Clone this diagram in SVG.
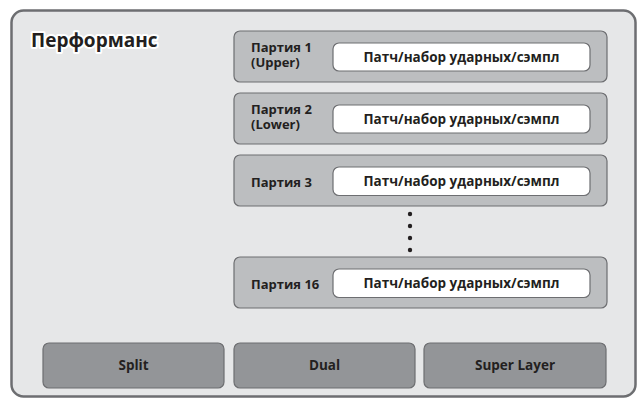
<svg xmlns="http://www.w3.org/2000/svg" width="643" height="399" viewBox="0 0 643 399">
<style>
.part{fill:#bcbec0;stroke:#6d6e71;stroke-width:1.2}
.patch{fill:#ffffff;stroke:#6d6e71;stroke-width:1.2}
.btn{fill:#939598;stroke:#6d6e71;stroke-width:1.2}
text{font-family:"Open Sans","Liberation Sans",sans-serif;fill:#231f20;font-weight:700}
.lbl{font-size:13px}
.pt{font-size:13.5px;text-anchor:middle}
.bt{font-size:13.5px;text-anchor:middle}
.title{font-size:19px;stroke:#ffffff;stroke-width:4;paint-order:stroke;stroke-linejoin:round}
</style>
<rect x="0" y="0" width="643" height="399" fill="#ffffff"/>
<g id="performance">
<rect x="11.5" y="10.5" width="624" height="386" rx="12" fill="#e6e7e8" stroke="#6d6e71" stroke-width="2.5"/>
<text class="title" x="31" y="47">Перформанс</text>
</g>
<g id="part1">
<rect class="part" x="234" y="31" width="373" height="51" rx="6"/>
<text class="lbl" x="251" y="52">Партия 1</text>
<text class="lbl" x="251" y="67">(Upper)</text>
<rect class="patch" x="333" y="43" width="257" height="28" rx="6"/>
<text class="pt" x="461.5" y="62">Патч/набор ударных/сэмпл</text>
</g>
<g id="part2">
<rect class="part" x="234" y="93" width="373" height="51" rx="6"/>
<text class="lbl" x="251" y="114">Партия 2</text>
<text class="lbl" x="251" y="129">(Lower)</text>
<rect class="patch" x="333" y="105" width="257" height="28" rx="6"/>
<text class="pt" x="461.5" y="124">Патч/набор ударных/сэмпл</text>
</g>
<g id="part3">
<rect class="part" x="234" y="155" width="373" height="51" rx="6"/>
<text class="lbl" x="251" y="187">Партия 3</text>
<rect class="patch" x="333" y="167" width="257" height="28.5" rx="6"/>
<text class="pt" x="461.5" y="186">Патч/набор ударных/сэмпл</text>
</g>
<g id="dots" fill="#231f20">
<circle cx="410" cy="214" r="2.2"/>
<circle cx="410" cy="226" r="2.2"/>
<circle cx="410" cy="238" r="2.2"/>
<circle cx="410" cy="250" r="2.2"/>
</g>
<g id="part16">
<rect class="part" x="234" y="257" width="373" height="51" rx="6"/>
<text class="lbl" x="251" y="289">Партия 16</text>
<rect class="patch" x="333" y="269" width="257" height="28.5" rx="6"/>
<text class="pt" x="461.5" y="288">Патч/набор ударных/сэмпл</text>
</g>
<g id="split">
<rect class="btn" x="43" y="343" width="181" height="45" rx="6"/>
<text class="bt" x="133.5" y="370">Split</text>
</g>
<g id="dual">
<rect class="btn" x="234" y="343" width="181" height="45" rx="6"/>
<text class="bt" x="324.5" y="370">Dual</text>
</g>
<g id="superlayer">
<rect class="btn" x="424" y="343" width="182" height="45" rx="6"/>
<text class="bt" x="515" y="370">Super Layer</text>
</g>
<g id="connectors"/>
</svg>
